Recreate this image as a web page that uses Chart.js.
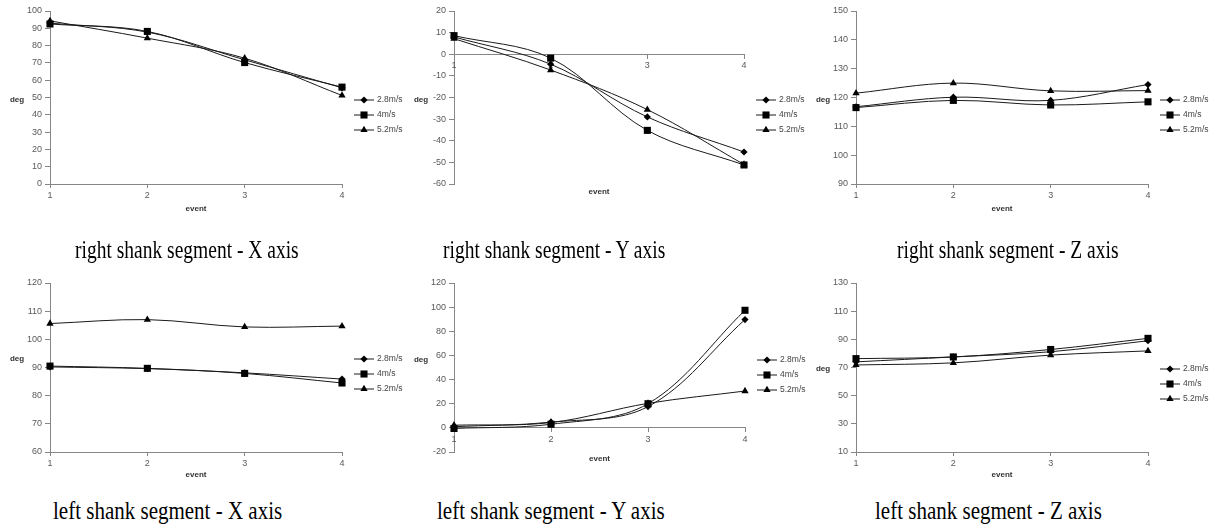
<!DOCTYPE html>
<html>
<head>
<meta charset="utf-8">
<script src="https://cdn.jsdelivr.net/npm/chart.js@4.4.1/dist/chart.umd.min.js"></script>
<style>
    body { margin: 0; background: #fff; width: 1215px; height: 532px; position: relative; overflow: hidden; }
    canvas { position: absolute; }
    .caption {
        position: absolute;
        font-family: "Liberation Serif", "Times New Roman", serif;
        font-size: 25px;
        line-height: 26px;
        color: #000;
        white-space: nowrap;
        transform: scaleX(0.78);
        transform-origin: left center;
    }
    .caption.low { transform: scaleX(0.84); }
</style>
</head>
<body>
<canvas id="rightX" width="405" height="220" style="left:0;top:0"></canvas>
<canvas id="rightY" width="405" height="220" style="left:405px;top:0"></canvas>
<canvas id="rightZ" width="405" height="220" style="left:810px;top:0"></canvas>
<canvas id="leftX" width="405" height="220" style="left:0;top:260px"></canvas>
<canvas id="leftY" width="405" height="220" style="left:405px;top:260px"></canvas>
<canvas id="leftZ" width="405" height="220" style="left:810px;top:260px"></canvas>

<div class="caption" style="left:75px;top:237px">right shank segment - X axis</div>
<div class="caption" style="left:443px;top:237px">right shank segment - Y axis</div>
<div class="caption" style="left:897px;top:237px">right shank segment - Z axis</div>
<div class="caption low" style="left:53px;top:498px">left shank segment - X axis</div>
<div class="caption low" style="left:437px;top:498px">left shank segment - Y axis</div>
<div class="caption low" style="left:875px;top:498px">left shank segment - Z axis</div>

<script>
// events on the x axis and the three walking speeds
const events = ['1', '2', '3', '4'];
const speeds = ['2.8m/s', '4m/s', '5.2m/s'];

// right shank segment (deg)
const rightX_28 = [93, 87.8, 71.8, 55.6];
const rightX_40 = [92.5, 88.2, 70.2, 56];
const rightX_52 = [94.3, 84.3, 72.7, 51.2];

const rightY_28 = [8, -4.6, -29, -45.2];
const rightY_40 = [8.6, -1.8, -35.2, -51.2];
const rightY_52 = [7.2, -7.3, -25.6, -51];

const rightZ_28 = [116.8, 120.1, 119, 124.5];
const rightZ_40 = [116.5, 119, 117.4, 118.5];
const rightZ_52 = [121.5, 125, 122.3, 122.4];

// left shank segment (deg)
const leftX_28 = [90.2, 89.6, 88.1, 85.9];
const leftX_40 = [90.5, 89.7, 87.9, 84.5];
const leftX_52 = [105.6, 107, 104.4, 104.7];

const leftY_28 = [1, 4.7, 17.6, 89.7];
const leftY_40 = [-0.5, 3, 20, 97.4];
const leftY_52 = [2.2, 4.4, 20.3, 30.5];

const leftZ_28 = [74, 77.5, 81.2, 89];
const leftZ_40 = [76.3, 77.5, 82.8, 90.7];
const leftZ_52 = [71.8, 73.3, 78.8, 81.8];

// y tick ranges: [min, max, step]
const rightXTicks = [0, 100, 10];
const rightYTicks = [-60, 20, 10];
const rightZTicks = [90, 150, 10];
const leftXTicks = [60, 120, 10];
const leftYTicks = [-20, 120, 20];
const leftZTicks = [10, 130, 20];

const markerStyles = ['rectRot', 'rect', 'triangle'];
const markerSizes = [3.6, 5, 4.2];
const AXIS_GREY = '#868686';
const TICK_FONT = { family: 'Liberation Sans', size: 9 };

/**
 * Draws the horizontal "deg" label and the Excel style legend
 */
function makeDecor(rowY) {
    return {
        id: 'decor',
        afterDraw(chart) {
            const ctx = chart.ctx;
            const area = chart.chartArea;
            ctx.save();
            ctx.fillStyle = '#333';
            ctx.font = 'bold 8px "Liberation Sans"';
            ctx.textAlign = 'center';
            ctx.textBaseline = 'middle';
            ctx.fillText('deg', area.left - 33, rowY);

            chart.data.datasets.forEach((ds, i) => {
                const y = rowY + i * 15;
                const x0 = area.right + 12;
                ctx.strokeStyle = '#1a1a1a';
                ctx.lineWidth = 1;
                ctx.beginPath();
                ctx.moveTo(x0, y);
                ctx.lineTo(x0 + 20, y);
                ctx.stroke();
                ctx.fillStyle = '#000';
                Chart.helpers.drawPoint(ctx, {
                    pointStyle: markerStyles[i],
                    radius: markerSizes[i],
                    rotation: 0,
                    borderWidth: 0
                }, x0 + 10, y);
                ctx.fillStyle = '#444';
                ctx.font = '8.5px "Liberation Sans"';
                ctx.textAlign = 'left';
                ctx.fillText(ds.label, x0 + 23, y);
            });
            ctx.restore();
        }
    };
}

function buildDatasets(series) {
    return series.map((values, i) => ({
        label: speeds[i],
        data: values,
        borderColor: '#1a1a1a',
        borderWidth: 1,
        tension: 0.35,
        pointStyle: markerStyles[i],
        pointRadius: markerSizes[i],
        pointBackgroundColor: '#000',
        pointBorderColor: '#000',
        pointBorderWidth: 0
    }));
}

/**
 * Render one panel. crossZero puts the x axis on y = 0 like the Excel original.
 */
function renderPanel(id, series, ticks, box) {
    const yAxis = {
        min: ticks[0],
        max: ticks[1],
        afterFit: scale => { scale.width = box.left; },
        ticks: { stepSize: ticks[2], color: '#595959', font: TICK_FONT, padding: 3 },
        grid: { drawOnChartArea: false, tickLength: 5, color: AXIS_GREY },
        border: { color: AXIS_GREY }
    };
    const eventTitle = {
        display: true,
        text: 'event',
        color: '#333',
        font: { family: 'Liberation Sans', size: 8, weight: 'bold' },
        padding: { top: 0, bottom: box.titlePad }
    };
    const xAxis = {
        type: 'category',
        offset: false,
        ticks: { color: '#595959', font: TICK_FONT, padding: 2, maxRotation: 0 },
        grid: { drawOnChartArea: false, tickLength: 4, color: AXIS_GREY },
        border: { color: AXIS_GREY }
    };
    const scales = { y: yAxis };
    let bottomPad = 0;
    if (box.crossZero) {
        xAxis.position = { y: 0 };
        scales.x = xAxis;
        scales.xb = {
            type: 'category',
            position: 'bottom',
            offset: false,
            afterFit: scale => { scale.height = 14; },
            ticks: { display: false },
            grid: { display: false },
            border: { display: false },
            title: eventTitle
        };
        bottomPad = 220 - box.bottom - 14;
    } else {
        xAxis.position = 'bottom';
        xAxis.afterFit = scale => { scale.height = 220 - box.bottom; };
        xAxis.title = eventTitle;
        scales.x = xAxis;
    }

    new Chart(document.getElementById(id), {
        type: 'line',
        data: { labels: events, datasets: buildDatasets(series) },
        options: {
            responsive: false,
            animation: false,
            layout: { padding: { left: 0, top: box.top, right: 405 - box.right, bottom: bottomPad } },
            plugins: { legend: { display: false }, tooltip: { enabled: false } },
            scales: scales
        },
        plugins: [makeDecor(box.rowY)]
    });
}

renderPanel('rightX', [rightX_28, rightX_40, rightX_52], rightXTicks,
    { left: 50, top: 11, right: 342, bottom: 184, titlePad: 6, rowY: 100 });
renderPanel('rightY', [rightY_28, rightY_40, rightY_52], rightYTicks,
    { left: 49, top: 11, right: 339, bottom: 184, titlePad: 1, rowY: 100, crossZero: true });
renderPanel('rightZ', [rightZ_28, rightZ_40, rightZ_52], rightZTicks,
    { left: 46, top: 11, right: 338, bottom: 184, titlePad: 6, rowY: 100 });
renderPanel('leftX', [leftX_28, leftX_40, leftX_52], leftXTicks,
    { left: 50, top: 23, right: 342, bottom: 192, titlePad: 0, rowY: 99 });
renderPanel('leftY', [leftY_28, leftY_40, leftY_52], leftYTicks,
    { left: 49, top: 23, right: 340, bottom: 192, titlePad: 2, rowY: 100, crossZero: true });
renderPanel('leftZ', [leftZ_28, leftZ_40, leftZ_52], leftZTicks,
    { left: 46, top: 23, right: 338, bottom: 192, titlePad: 0, rowY: 109 });
</script>
</body>
</html>
